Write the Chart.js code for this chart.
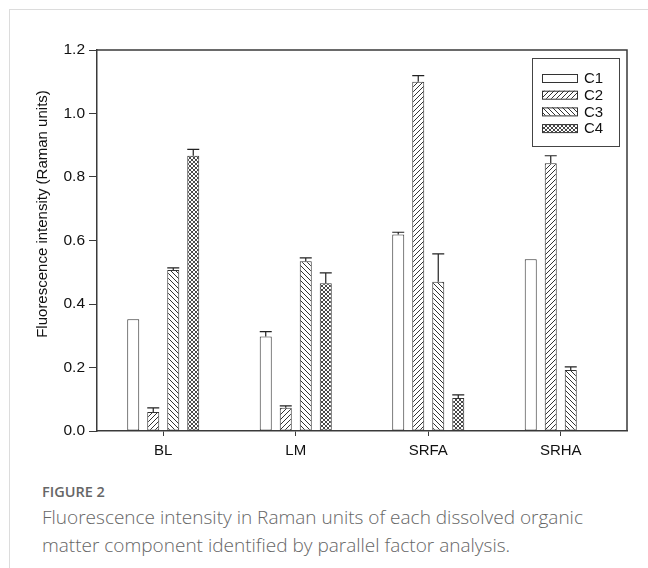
<!DOCTYPE html>
<html>
<head>
<meta charset="utf-8">
<script src="https://cdn.jsdelivr.net/npm/chart.js@4.4.0/dist/chart.umd.min.js"></script>
<style>
  body { margin: 0; background: #fff; width: 648px; height: 568px; overflow: hidden; position: relative; font-family: 'Open Sans', sans-serif; }
  #card { position: absolute; left: 9px; top: 9px; width: 700px; height: 640px; border: 1px solid #dcdcdc; }
  #wrap { position: absolute; left: 0; top: 0; width: 648px; height: 470px; }
  #cap { position: absolute; left: 42px; top: 481px; color: #666; }
  #cap .fig { font-size: 14.5px; font-weight: 600; line-height: 22px; }
  #cap .txt { font-size: 19px; font-weight: 300; line-height: 28px; }
</style>
</head>
<body>
<div id="card"></div>
<div id="wrap"><canvas id="grafico" width="648" height="470"></canvas></div>
<div id="cap">
  <div class="fig">FIGURE 2</div>
  <div class="txt">Fluorescence intensity in Raman units of each dissolved organic<br>matter component identified by parallel factor analysis.</div>
</div>
<script>
// datos
const muestras = ['BL', 'LM', 'SRFA', 'SRHA'];
const componentes = ['C1', 'C2', 'C3', 'C4'];
const valC1 = [0.352, 0.298, 0.619, 0.541];
const valC2 = [0.060, 0.073, 1.100, 0.843];
const valC3 = [0.507, 0.535, 0.470, 0.192];
const valC4 = [0.867, 0.465, 0.104, null];
const errC1 = [0, 0.015, 0.007, 0];
const errC2 = [0.013, 0.006, 0.019, 0.024];
const errC3 = [0.007, 0.010, 0.088, 0.010];
const errC4 = [0.020, 0.033, 0.010, 0];
const ticksY = [0, 0.2, 0.4, 0.6, 0.8, 1.0, 1.2];
const tituloY = 'Fluorescence intensity (Raman units)';

const valores = [valC1, valC2, valC3, valC4];
const errores = [errC1, errC2, errC3, errC4];
const LINEA = '#3a3a3a';
const FUENTE = 'Liberation Sans, Arial, sans-serif';

// tramas de relleno
function trama(tipo) {
    if (tipo === 'blanco') return '#fff';
    const s = tipo === 'cruz' ? 4 : 5;
    const c = document.createElement('canvas');
    c.width = s; c.height = s;
    const g = c.getContext('2d');
    g.fillStyle = '#fff'; g.fillRect(0, 0, s, s);
    g.strokeStyle = '#333'; g.lineWidth = 1;
    const barra = () => { g.beginPath(); g.moveTo(-1, s + 1); g.lineTo(s + 1, -1); g.moveTo(-1, 1); g.lineTo(1, -1); g.moveTo(s - 1, s + 1); g.lineTo(s + 1, s - 1); g.stroke(); };
    const contra = () => { g.beginPath(); g.moveTo(-1, -1); g.lineTo(s + 1, s + 1); g.moveTo(s - 1, -1); g.lineTo(s + 1, 1); g.moveTo(-1, s - 1); g.lineTo(1, s + 1); g.stroke(); };
    if (tipo === 'barra') barra();
    if (tipo === 'contra') contra();
    if (tipo === 'cruz') { g.lineWidth = 0.9; barra(); contra(); }
    return g.createPattern(c, 'repeat');
}
const rellenos = [trama('blanco'), trama('barra'), trama('contra'), trama('cruz')];

const marco = {
    id: 'marco',
    afterDraw(chart) {
        const { ctx, chartArea: a } = chart;
        ctx.save();
        ctx.strokeStyle = LINEA; ctx.lineWidth = 1.5;
        ctx.beginPath();
        ctx.moveTo(a.left, a.top); ctx.lineTo(a.right, a.top); ctx.lineTo(a.right, a.bottom);
        ctx.stroke();
        // titulo del eje Y
        ctx.save();
        ctx.translate(43, 214);
        ctx.rotate(-Math.PI / 2);
        ctx.font = '15px ' + FUENTE;
        ctx.fillStyle = '#111';
        ctx.textAlign = 'center'; ctx.textBaseline = 'middle';
        ctx.fillText(tituloY, 0, 0);
        ctx.restore();
        // leyenda
        const x0 = a.right - 95, y0 = a.top + 8;
        ctx.lineWidth = 1;
        ctx.strokeStyle = '#444';
        ctx.strokeRect(x0 + 0.5, y0 + 0.5, 87, 88);
        ctx.font = '15px ' + FUENTE;
        ctx.textBaseline = 'middle';
        chart.data.datasets.forEach((ds, i) => {
            const yc = y0 + 20 + i * 16.7;
            ctx.fillStyle = ds.backgroundColor;
            ctx.fillRect(x0 + 10, yc - 4, 35, 8);
            ctx.strokeStyle = '#333';
            ctx.strokeRect(x0 + 10.5, yc - 3.5, 35, 8);
            ctx.fillStyle = '#111';
            ctx.fillText(ds.label, x0 + 52, yc + 1);
        });
        ctx.restore();
    },
    afterDatasetsDraw(chart) {
        const { ctx } = chart;
        const y = chart.scales.y;
        ctx.save();
        ctx.strokeStyle = '#222'; ctx.lineWidth = 1.2;
        chart.data.datasets.forEach((ds, i) => {
            chart.getDatasetMeta(i).data.forEach((bar, j) => {
                const e = errores[i][j];
                const v = valores[i][j];
                if (!e || v == null) return;
                const p = bar.getProps(['x', 'y', 'width'], true);
                const yt = y.getPixelForValue(v + e);
                ctx.beginPath();
                ctx.moveTo(p.x, p.y); ctx.lineTo(p.x, yt);
                ctx.moveTo(p.x - p.width / 2, yt); ctx.lineTo(p.x + p.width / 2, yt);
                ctx.stroke();
            });
        });
        ctx.restore();
    }
};

new Chart(document.getElementById('grafico'), {
    type: 'bar',
    data: {
        labels: muestras,
        datasets: componentes.map((c, i) => ({
            label: c,
            data: valores[i],
            backgroundColor: rellenos[i],
            borderColor: '#333',
            borderWidth: 1,
            borderSkipped: false,
            categoryPercentage: 0.604,
            barPercentage: 0.6
        }))
    },
    options: {
        responsive: false, animation: false,
        layout: { padding: { top: 50, right: 21, left: 50, bottom: 0 } },
        plugins: { legend: { display: false }, tooltip: { enabled: false } },
        scales: {
            x: {
                grid: { drawOnChartArea: false, offset: false, tickLength: 5, color: LINEA },
                border: { color: LINEA, width: 1.5 },
                ticks: { font: { family: FUENTE, size: 15 }, color: '#111', padding: 6 },
                afterFit: s => { s.height = 39; }
            },
            y: {
                min: 0, max: 1.2,
                afterBuildTicks: s => { s.ticks = ticksY.map(v => ({ value: v })); },
                grid: { drawOnChartArea: false, tickLength: 8, color: LINEA },
                border: { color: LINEA, width: 1.5 },
                ticks: { font: { family: FUENTE, size: 15.5 }, color: '#111', padding: 4, callback: v => v.toFixed(1) },
                afterFit: s => { s.width = 47; }
            }
        }
    },
    plugins: [marco]
});
</script>
</body>
</html>
